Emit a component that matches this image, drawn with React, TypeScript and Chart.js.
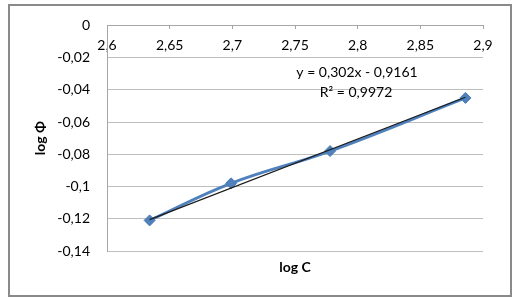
import React, { useEffect, useRef } from "react";
import { Chart, registerables } from "chart.js";

Chart.register(...registerables);

// ---- data ----
const logC = [2.634, 2.699, 2.778, 2.886];
const logPhi = [-0.121, -0.098, -0.078, -0.045];
const trendX = [2.634, 2.886];
const trendY = [-0.1205, -0.0446];
const equationLines = ["y = 0,302x - 0,9161", "R² = 0,9972"];
const xTitle = "log C";
const yTitle = "log Φ";
const xRange = [2.6, 2.9];
const xStep = 0.05;
const yRange = [-0.14, 0];
const yStep = 0.02;

const FONT = "Lato, 'Liberation Sans', sans-serif";
const fmt = (v: number) => String(Math.round(v * 100) / 100).replace(".", ",");

const textPlugin = {
  id: "texts",
  afterDraw(chart: any) {
    const { ctx, chartArea } = chart;
    ctx.save();
    ctx.fillStyle = "#000";
    ctx.textAlign = "center";
    ctx.textBaseline = "middle";
    ctx.font = `14px ${FONT}`;
    ctx.fillText(equationLines[0], 357, 72);
    ctx.fillText(equationLines[1], 356, 92);
    ctx.font = `bold 14px ${FONT}`;
    ctx.fillText(xTitle, (chartArea.left + chartArea.right) / 2, 267);
    ctx.restore();
  },
};

export default function App() {
  const ref = useRef<HTMLCanvasElement | null>(null);
  useEffect(() => {
    if (!ref.current) return;
    const chart = new Chart(ref.current, {
      type: "scatter",
      data: {
        datasets: [
          {
            label: "trend",
            data: trendX.map((x, i) => ({ x, y: trendY[i] })),
            showLine: true,
            borderColor: "#1b1b1b",
            borderWidth: 1.2,
            pointRadius: 0,
            tension: 0,
          },
          {
            label: "log Φ",
            data: logC.map((x, i) => ({ x, y: logPhi[i] })),
            showLine: true,
            borderColor: "#4f81bd",
            borderWidth: 3,
            tension: 0.4,
            pointStyle: "rectRot",
            pointRadius: 5.5,
            pointBackgroundColor: "#4f81bd",
            pointBorderColor: "#4a7ab5",
            pointBorderWidth: 1,
          },
        ],
      },
      options: {
        responsive: false,
        animation: false,
        layout: { padding: { left: 0, top: 24, right: 35, bottom: 50 } },
        plugins: { legend: { display: false }, tooltip: { enabled: false } },
        scales: {
          x: {
            type: "linear",
            position: { y: 0 } as any,
            min: xRange[0],
            max: xRange[1],
            grid: {
              drawOnChartArea: false,
              drawTicks: true,
              tickLength: 3,
              color: "#a6a6a6",
            },
            border: { display: true, color: "#a6a6a6", width: 1 },
            ticks: {
              stepSize: xStep,
              padding: 9,
              color: "#000",
              font: { family: FONT, size: 14 },
              callback: (v: any) => fmt(Number(v)),
              maxRotation: 0,
              autoSkip: false,
            },
          },
          y: {
            type: "linear",
            position: "left",
            min: yRange[0],
            max: yRange[1],
            afterFit: (s: any) => {
              s.width = 107;
            },
            grid: { color: "#bfbfbf", lineWidth: 1, drawTicks: false },
            border: { display: true, color: "#a6a6a6", width: 1 },
            ticks: {
              stepSize: yStep,
              padding: 17,
              color: "#000",
              font: { family: FONT, size: 14 },
              callback: (v: any) => fmt(Number(v)),
            },
            title: {
              display: true,
              text: yTitle,
              color: "#000",
              font: { family: FONT, size: 14, weight: "bold" },
              padding: { top: 31.6, bottom: 0 },
            },
          },
        },
      },
      plugins: [textPlugin],
    });
    return () => chart.destroy();
  }, []);

  return (
    <div style={{ position: "fixed", left: 0, top: 0, width: 518, height: 301, background: "#fff" }}>
      <canvas ref={ref} width={518} height={301} style={{ display: "block" }} />
      <div
        style={{
          position: "absolute",
          left: 8,
          top: 4,
          width: 504,
          height: 293,
          border: "2px solid #8a8a8a",
          boxSizing: "border-box",
          pointerEvents: "none",
        }}
      />
    </div>
  );
}
